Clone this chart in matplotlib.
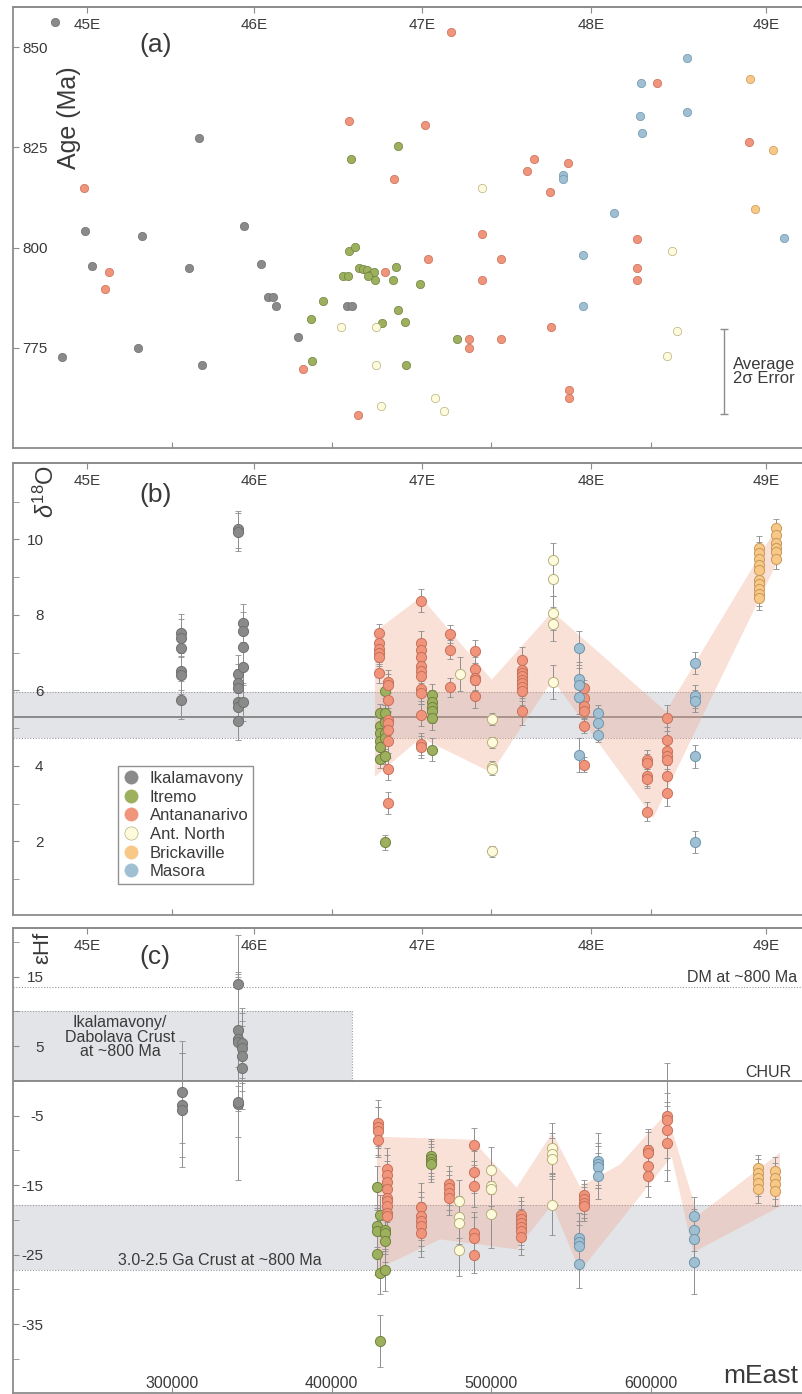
import numpy as np
import matplotlib.pyplot as plt
from matplotlib.lines import Line2D

plt.rcParams['font.family'] = ['Liberation Sans', 'DejaVu Sans']
plt.rcParams['mathtext.fontset'] = 'custom'
plt.rcParams['mathtext.rm'] = 'Liberation Sans'
plt.rcParams['mathtext.it'] = 'Liberation Sans:italic'

# ---- groups and colours ----
groups = ["Ikalamavony", "Itremo", "Antananarivo", "Ant. North", "Brickaville", "Masora"]
face = {"Ikalamavony": "#8a8a8a", "Itremo": "#9cb05e", "Antananarivo": "#f0957b",
        "Ant. North": "#fdfbdc", "Brickaville": "#f8c886", "Masora": "#9fbfd2"}
edge = {"Ikalamavony": "#707070", "Itremo": "#71823d", "Antananarivo": "#c8705a",
        "Ant. North": "#b8b07c", "Brickaville": "#c8995a", "Masora": "#6f95ad"}

# ---- x axis (UTM mEast) ----
x_limits = (200400, 695400)
east_ticks = [300000, 400000, 500000, 600000]
lon_ticks = [246700, 351400, 456600, 562500, 672200]
lon_labels = ["45E", "46E", "47E", "48E", "49E"]

# ---- panel (a): age (mEast, Ma) ----
age_ikal = [(226700, 856.2), (245500, 804.2), (249900, 795.5), (281000, 802.8), (278900, 775.0),
            (231300, 772.8), (310700, 794.9), (316700, 827.4), (318800, 770.8), (345300, 805.3),
            (355800, 795.9), (360400, 787.6), (363500, 787.6), (365000, 785.5), (379100, 777.7),
            (409500, 785.5), (412600, 785.5)]
age_itre = [(387900, 771.8), (386900, 782.2), (394400, 786.6), (412000, 822.2), (441400, 825.4),
            (411100, 799.2), (414700, 800.2), (407000, 792.9), (410100, 792.9), (417400, 794.9),
            (419900, 794.6), (422000, 794.3), (424100, 793.2), (426600, 794.0), (427200, 791.9),
            (423000, 792.9), (438300, 791.9), (440200, 795.1), (441400, 784.5), (431800, 781.3),
            (455600, 790.8), (446200, 781.4), (446600, 770.8), (478600, 777.1)]
age_anta = [(244900, 814.8), (260500, 793.8), (258200, 789.7), (381900, 769.8), (410900, 831.6),
            (439300, 817.0), (416400, 758.3), (433700, 793.9), (474800, 853.7), (458500, 830.6),
            (527000, 822.2), (522300, 819.0), (548000, 821.2), (536900, 813.8), (603700, 841.1),
            (661600, 826.4), (494400, 803.3), (460200, 797.1), (506300, 797.1), (494100, 791.8),
            (591400, 802.2), (591200, 794.9), (591200, 791.8), (537500, 780.3), (486300, 777.1),
            (486300, 775.0), (506000, 777.1), (548800, 764.5), (548800, 762.5)]
age_antn = [(405700, 780.3), (427800, 780.3), (427800, 770.8), (430800, 760.4), (494400, 814.9),
            (613500, 799.2), (616400, 779.2), (610000, 772.9), (464800, 762.5), (470400, 759.2)]
age_bric = [(662000, 842.1), (676600, 824.3), (665100, 809.6)]
age_maso = [(544800, 818.0), (544800, 817.0), (577000, 808.6), (622500, 847.3), (593700, 841.1),
            (593300, 832.7), (622500, 833.7), (594700, 828.5), (683500, 802.3), (557700, 798.2),
            (557700, 785.5)]
age_err_pos = (645900, 769.1)
age_err_size = 10.6

# ---- panel (b): d18O columns (mEast, values, 2s error) ----
o_ikal = [(305600, [7.51, 7.38, 7.12, 6.50, 6.41, 5.75], 0.5),
          (341500, [10.26, 10.2, 6.44, 6.19, 6.06, 5.68, 5.57, 5.19], 0.5),
          (344300, [7.79, 7.57, 7.16, 6.63, 5.70], 0.5)]
o_itre = [(430300, [5.4, 5.06, 4.87, 4.67, 4.51, 4.18], 0.25),
          (433500, [5.99, 5.4, 5.15, 4.87, 4.74, 4.25, 1.97], 0.2),
          (462700, [5.88, 5.70, 5.56, 5.44, 5.26, 4.43], 0.3)]
o_anta = [(429700, [7.51, 7.25, 7.1, 7.0, 6.89, 6.45], 0.25),
          (435200, [6.23, 6.13, 5.75, 5.22, 5.13, 4.95, 4.65, 3.92, 3.02], 0.3),
          (456000, [8.37, 7.26, 7.07, 6.88, 6.65, 6.5, 6.38, 6.03, 5.94, 5.35, 4.58, 4.5], 0.3),
          (474200, [7.49, 7.07, 6.08], 0.25),
          (489900, [7.03, 6.57, 6.32, 6.28, 5.84], 0.3),
          (519100, [6.79, 6.54, 6.45, 6.38, 6.28, 6.19, 6.08, 5.97, 5.44], 0.35),
          (558400, [6.07, 5.79, 5.59, 5.44, 5.06, 4.03], 0.2),
          (597800, [4.16, 4.07, 3.72, 3.66, 2.79], 0.25),
          (610400, [5.26, 4.69, 4.38, 4.27, 4.16, 3.72, 3.28], 0.35)]
o_antn = [(480500, [6.44], 0.45),
          (500300, [5.24, 4.62, 3.98, 3.92, 1.74], 0.15),
          (538500, [9.45, 8.96, 8.04, 7.75, 6.23], 0.45)]
o_bric = [(667800, [9.78, 9.63, 9.47, 9.32, 9.19, 8.92, 8.81, 8.68, 8.54, 8.44], 0.3),
          (678500, [10.29, 10.11, 9.91, 9.78, 9.65, 9.47], 0.25)]
o_maso = [(555200, [7.13, 6.30, 6.15, 5.82, 4.29], 0.45),
          (567100, [5.40, 5.13, 4.82], 0.2),
          (627500, [6.72, 5.84, 5.72, 4.25, 1.98], 0.3)]
mantle_o = 5.3
mantle_o_band = (4.75, 5.95)
o_env_x = [427200, 456000, 500300, 538500, 609500, 681000, 678500, 601600, 538500, 500300, 456000, 427200]
o_env_y = [7.55, 8.47, 6.28, 8.08, 5.44, 10.46, 9.33, 2.62, 6.28, 3.82, 4.74, 3.71]

# ---- panel (c): eHf columns (mEast, values, 2s error) ----
hf_ikal = [(306100, [-1.6, -3.43, -4.25], [7.3, 7.5, 8.2]),
           (341500, [13.93, 7.33, 6.0, 5.65, -3.29, -3.0], [7.0, 8.0, 9.0, 10.0, 11.0, 5.0]),
           (343700, [5.42, 4.7, 3.6, 1.92], [5.0, 5.0, 5.0, 6.0])]
hf_itre = [(428700, [-15.3, -20.9, -21.6, -24.95], 3.0),
           (430300, [-19.35, -27.6, -37.4], [3.0, 3.0, 3.7]),
           (433500, [-21.4, -21.84, -23.0, -27.2], 3.0),
           (462300, [-10.8, -11.2, -11.6, -12.0], 2.5)]
hf_anta = [(429300, [-6.0, -6.7, -7.2, -8.5], [3.3, 3.0, 3.5, 2.5]),
           (434500, [-12.65, -13.6, -14.57, -15.62, -16.8, -17.3, -18.0, -18.97, -19.45], 3.0),
           (456000, [-18.16, -19.45, -20.2, -20.9, -21.9], 3.5),
           (473800, [-14.76, -15.4, -16.1, -16.8], 2.5),
           (489200, [-9.17, -13.14, -15.15, -21.9, -22.55, -25.04], [2.4, 3.0, 3.0, 3.0, 3.0, 2.6]),
           (518700, [-19.35, -19.83, -20.4, -20.98, -21.6, -22.4], 2.6),
           (558200, [-16.44, -17.0, -17.53, -18.0], 2.2),
           (598100, [-9.89, -10.36, -12.18, -13.72], 3.0),
           (610000, [-5.1, -5.68, -7.1, -9.0], [7.7, 4.0, 4.0, 5.4])]
hf_antn = [(480000, [-17.3, -19.55, -20.5, -24.33], [3.0, 3.0, 3.0, 3.8]),
           (499700, [-12.85, -15.05, -15.6, -19.2], [3.4, 3.0, 3.0, 4.8]),
           (538300, [-9.64, -10.46, -11.17, -17.9], [3.6, 3.0, 3.0, 4.2])]
hf_bric = [(667400, [-12.5, -13.2, -13.95, -14.66, -15.6], 1.9),
           (677800, [-13.0, -13.95, -14.9, -15.87], 2.1)]
hf_maso = [(555000, [-22.55, -23.18, -23.76, -26.4], [3.6, 3.0, 3.0, 3.4]),
           (566700, [-11.46, -12.0, -12.4, -13.7], [4.0, 3.0, 3.0, 3.3]),
           (627400, [-19.45, -21.46, -22.7, -26.1], [2.8, 3.0, 3.0, 4.6])]
dm_level = 13.5
chur_level = 0.0
ikal_crust = (412600, 0.0, 10.0)  # right edge, bottom, top
old_crust = (-27.2, -17.9)
hf_env_x = [428450, 487790, 515990, 538300, 555650, 580720, 609980, 629590, 680970,
            680970, 626650, 613120, 555650, 538300, 515990, 467930, 428450]
hf_env_y = [-8.02, -8.45, -15.34, -7.45, -15.2, -12.03, -4.58, -19.35, -10.32,
            -18.07, -24.66, -10.89, -27.39, -17.78, -24.24, -22.8, -27.1]

# ---- styling helpers ----
SPINE = "#8c8c8c"
TXT = "#3a3a3a"
BAND = "#e3e4e7"
ENV = "#f2a48a"

W, H = 803, 1394
fig = plt.figure(figsize=(W / 100, H / 100), dpi=100)


def px_axes(top, bottom, left=13, right=803):
    return fig.add_axes([left / W, 1 - bottom / H, (right - left) / W, (bottom - top) / H])


def style(ax, ylim, majors, major_labels, minors=None, ypad=-22, show_east=False):
    ax.set_xlim(*x_limits)
    ax.set_ylim(*ylim)
    for s in ["left", "top", "bottom"]:
        ax.spines[s].set_color(SPINE)
        ax.spines[s].set_linewidth(1.3)
    ax.spines["right"].set_visible(False)
    ax.set_yticks(majors, major_labels)
    if minors:
        ax.set_yticks(minors, minor=True)
    ax.tick_params(axis="y", which="both", direction="in", length=4, color=SPINE,
                   labelsize=11, labelcolor=TXT, pad=ypad)
    ax.set_xticks(east_ticks, [str(t) for t in east_ticks])
    ax.tick_params(axis="x", direction="in", length=4, color=SPINE, labelsize=11.5,
                   labelcolor=TXT, pad=-12, labelbottom=show_east)
    sec = ax.secondary_xaxis("top")
    sec.set_xticks(lon_ticks, lon_labels)
    sec.tick_params(direction="in", length=4, color=SPINE, labelsize=11,
                    labelcolor=TXT, pad=-18)
    sec.spines["top"].set_color(SPINE)
    sec.spines["top"].set_linewidth(1.3)


def draw_columns(ax, cols, name):
    for x, ys, err in cols:
        xs = np.full(len(ys), x)
        ax.errorbar(xs, ys, yerr=err, fmt="none", ecolor="#8e8e8e", elinewidth=0.7,
                    capsize=2.0, capthick=0.6, zorder=3)
        ax.plot(xs, ys, "o", ms=7.3, mfc=face[name], mec=edge[name], mew=0.7, zorder=4)


# ---- panel (a) ----
ax_a = px_axes(7, 448)
style(ax_a, (750, 860), [775, 800, 825, 850], ["775", "800", "825", "850"], ypad=-25)
for name, pts in zip(groups, [age_ikal, age_itre, age_anta, age_antn, age_bric, age_maso]):
    xs, ys = zip(*pts)
    ax_a.plot(xs, ys, "o", ms=6.0, mfc=face[name], mec=edge[name], mew=0.5, zorder=4)
ax_a.errorbar([age_err_pos[0]], [age_err_pos[1]], yerr=age_err_size, fmt="none",
              ecolor="#8e8e8e", elinewidth=1.0, capsize=3, capthick=1.0)
ax_a.text(age_err_pos[0] + 5600, age_err_pos[1], "Average\n2\u03c3 Error", ha="left",
          va="center", fontsize=12, color=TXT, linespacing=0.95)
ax_a.text(0.0709, 0.748, "Age (Ma)", transform=ax_a.transAxes, rotation=90,
          ha="center", va="center", fontsize=18, color=TXT)
ax_a.text(0.18, 0.914, "(a)", transform=ax_a.transAxes, ha="center", va="center",
          fontsize=19, color=TXT)

# ---- panel (b) ----
ax_b = px_axes(463, 915)
style(ax_b, (0.05, 12.02), [2, 4, 6, 8, 10], ["2", "4", "6", "8", "10"],
      minors=[1, 3, 5, 7, 9, 11])
ax_b.axhspan(*mantle_o_band, color=BAND, lw=0, zorder=0)
for yv in mantle_o_band:
    ax_b.axhline(yv, color="#9a9a9a", ls=(0, (1, 1.5)), lw=0.8, zorder=1)
ax_b.axhline(mantle_o, color="#7a7a7a", lw=1.2, zorder=1)
ax_b.fill(o_env_x, o_env_y, color=ENV, alpha=0.33, lw=0, zorder=2)
for name, cols in zip(groups, [o_ikal, o_itre, o_anta, o_antn, o_bric, o_maso]):
    draw_columns(ax_b, cols, name)
handles = [Line2D([], [], ls="none", marker="o", ms=9.5, mfc=face[g],
                  mec=(edge[g] if g == "Ant. North" else face[g]), mew=0.5) for g in groups]
leg = ax_b.legend(handles, groups, loc="upper left", bbox_to_anchor=(0.133, 0.330),
                  fontsize=12, frameon=True, fancybox=False, handlelength=1.0,
                  handletextpad=0.6, labelspacing=0.22, borderpad=0.3, borderaxespad=0)
leg.get_frame().set_edgecolor("#777777")
leg.get_frame().set_linewidth(1.0)
for t in leg.get_texts():
    t.set_color(TXT)
ax_b.text(0.0418, 0.938, r"$\delta^{18}$O", transform=ax_b.transAxes, rotation=90,
          ha="center", va="center", fontsize=17, color=TXT)
ax_b.text(0.18, 0.929, "(b)", transform=ax_b.transAxes, ha="center", va="center",
          fontsize=19, color=TXT)

# ---- panel (c) ----
ax_c = px_axes(928, 1393)
style(ax_c, (-44.9, 22.0), [-35, -25, -15, -5, 5, 15], ["-35", "-25", "-15", "-5", "5", "15"],
      minors=[-40, -30, -20, -10, 0, 10, 20], show_east=True)
ax_c.fill_between([x_limits[0], ikal_crust[0]], ikal_crust[1], ikal_crust[2], color=BAND,
                  lw=0, zorder=0)
ax_c.plot([x_limits[0], ikal_crust[0], ikal_crust[0]], [ikal_crust[2], ikal_crust[2], ikal_crust[1]],
          color="#9a9a9a", ls=(0, (1, 1.5)), lw=0.8, zorder=1)
ax_c.axhspan(*old_crust, color=BAND, lw=0, zorder=0)
for yv in old_crust:
    ax_c.axhline(yv, color="#9a9a9a", ls=(0, (1, 1.5)), lw=0.8, zorder=1)
ax_c.axhline(dm_level, color="#9a9a9a", ls=(0, (1, 1.5)), lw=0.8, zorder=1)
ax_c.axhline(chur_level, color="#7a7a7a", lw=1.2, zorder=1)
ax_c.fill(hf_env_x, hf_env_y, color=ENV, alpha=0.33, lw=0, zorder=2)
for name, cols in zip(groups, [hf_ikal, hf_itre, hf_anta, hf_antn, hf_bric, hf_maso]):
    draw_columns(ax_c, cols, name)
ax_c.text(267400, 6.3, "Ikalamavony/\nDabolava Crust\nat ~800 Ma", ha="center", va="center",
          fontsize=11.5, color=TXT, linespacing=0.95)
ax_c.text(330000, -25.9, "3.0-2.5 Ga Crust at ~800 Ma", ha="center", va="center",
          fontsize=11.5, color=TXT)
ax_c.text(691600, dm_level + 0.3, "DM at ~800 Ma", ha="right", va="bottom", fontsize=11.5,
          color=TXT)
ax_c.text(673400, chur_level + 0.2, "CHUR", ha="center", va="bottom", fontsize=11.5, color=TXT)
ax_c.text(0.038, 0.957, "\u03b5Hf", transform=ax_c.transAxes, rotation=90,
          ha="center", va="center", fontsize=16, color=TXT)
ax_c.text(0.18, 0.938, "(c)", transform=ax_c.transAxes, ha="center", va="center",
          fontsize=19, color=TXT)
ax_c.text(0.9937, 0.037, "mEast", transform=ax_c.transAxes, ha="right", va="center",
          fontsize=19, color=TXT)

fig.savefig("out.png", dpi=100)
